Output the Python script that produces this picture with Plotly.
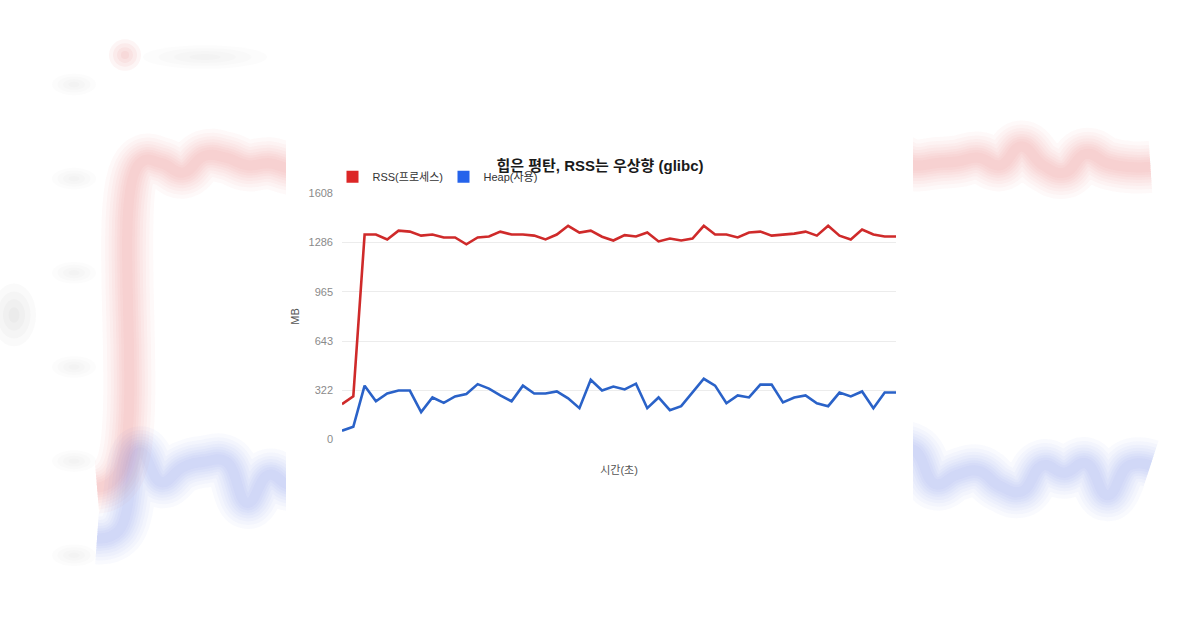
import plotly.graph_objects as go

# ---- data ----
time_s = list(range(50))
rss_mb = [231, 282, 1339, 1339, 1307, 1364, 1358, 1332, 1339, 1320,
          1320, 1275, 1320, 1326, 1358, 1339, 1339, 1332, 1307, 1339,
          1396, 1352, 1364, 1325, 1300, 1335, 1326, 1352, 1294, 1313,
          1300, 1313, 1396, 1339, 1339, 1320, 1352, 1358, 1332, 1339,
          1345, 1358, 1332, 1396, 1332, 1307, 1371, 1339, 1326, 1326]
heap_mb = [58, 83, 352, 250, 301, 320, 320, 179, 275, 240,
           282, 298, 362, 333, 288, 250, 352, 301, 301, 314,
           269, 205, 391, 320, 346, 327, 365, 205, 275, 192,
           218, 307, 397, 352, 237, 288, 275, 359, 359, 243,
           275, 288, 237, 218, 307, 282, 314, 205, 307, 307]
y_ticks = [0, 321.6, 643.2, 964.8, 1286.4, 1608]
y_tick_labels = ["0", "322", "643", "965", "1286", "1608"]
series_names = ["RSS(프로세스)", "Heap(사용)"]
title_text = "힙은 평탄, RSS는 우상향 (glibc)"
x_title = "시간(초)"
y_title = "MB"

RED_LINE = "#cf2a2a"
BLUE_LINE = "#2a62c8"
RED_KEY = "#dc2626"
BLUE_KEY = "#2563eb"
FONT = "Liberation Sans, Noto Sans CJK KR, sans-serif"

W, H = 1200, 628
fig = go.Figure()

# ---- blurred, magnified backdrop of the same chart (left and right of the card) ----
bg_x0, bg_dx = 97.0, 21.5
bg_zero, bg_mbpp = 560.0, 3.35
y_lo, y_hi = -(H - bg_zero) * bg_mbpp, bg_zero * bg_mbpp
card_l, card_r = 286, 913

blur_widths = [52, 44, 37, 31, 25, 20, 15, 10]
for sub, xa in (("", "x"), ("2", "x2")):
    for vals, col in ((rss_mb, "rgba(225,60,60,{a})"), (heap_mb, "rgba(60,110,225,{a})")):
        for w in blur_widths:
            fig.add_trace(go.Scatter(
                x=time_s, y=vals, mode="lines",
                line=dict(color=col.format(a=0.03), width=w, shape="spline", smoothing=1.3),
                xaxis=xa, yaxis="y" + sub, showlegend=False, hoverinfo="skip"))

# ---- main chart ----
fig.add_trace(go.Scatter(x=time_s, y=rss_mb, mode="lines", name=series_names[0],
                         line=dict(color=RED_LINE, width=2.6), xaxis="x3", yaxis="y3", showlegend=False))
fig.add_trace(go.Scatter(x=time_s, y=heap_mb, mode="lines", name=series_names[1],
                         line=dict(color=BLUE_LINE, width=2.6), xaxis="x3", yaxis="y3", showlegend=False))
# legend keys (square swatches)
fig.add_trace(go.Scatter(x=[None], y=[None], mode="markers", name=series_names[0],
                         marker=dict(symbol="square", size=12, color=RED_KEY), xaxis="x3", yaxis="y3"))
fig.add_trace(go.Scatter(x=[None], y=[None], mode="markers", name=series_names[1],
                         marker=dict(symbol="square", size=12, color=BLUE_KEY), xaxis="x3", yaxis="y3"))

hidden = dict(visible=False, fixedrange=True)
fig.update_layout(
    width=W, height=H,
    margin=dict(l=0, r=0, t=0, b=0),
    paper_bgcolor="white", plot_bgcolor="rgba(0,0,0,0)",
    font=dict(family=FONT, size=11, color="#555"),
    title=dict(text="<b>" + title_text + "</b>", x=0.5, xanchor="center",
               y=1 - 166 / H, yanchor="middle", font=dict(size=15, color="#1a1a1a", family=FONT)),
    showlegend=True,
    legend=dict(orientation="h", x=332.5 / W, xanchor="left", y=1 - 174 / H, yanchor="middle",
                font=dict(size=11, color="#333"), itemwidth=30, entrywidth=66, entrywidthmode="pixels",
                bgcolor="rgba(0,0,0,0)", tracegroupgap=0),
    # backdrop axes
    xaxis=dict(domain=[0, card_l / W], range=[-bg_x0 / bg_dx, (card_l - bg_x0) / bg_dx], **hidden),
    yaxis=dict(domain=[0, 1], range=[y_lo, y_hi], **hidden),
    xaxis2=dict(domain=[card_r / W, 1], range=[(card_r - bg_x0) / bg_dx, (W - bg_x0) / bg_dx], **hidden),
    yaxis2=dict(domain=[0, 1], range=[y_lo, y_hi], **hidden),
    # main axes
    xaxis3=dict(domain=[342 / W, 896 / W], range=[0, 49], showgrid=False, zeroline=False,
                showticklabels=False, ticks="", showline=False, anchor="y3",
                title=dict(text=x_title, standoff=26, font=dict(size=11, color="#555"))),
    yaxis3=dict(domain=[(H - 442) / H, (H - 191) / H], range=[0, 1608], anchor="x3",
                tickvals=y_ticks, ticktext=y_tick_labels, showgrid=True, gridcolor="#ececec",
                gridwidth=1, zeroline=False, showline=False, ticks="",
                tickfont=dict(size=11, color="#8a8a8a"), ticklabelstandoff=8,
                title=dict(text=y_title, standoff=6, font=dict(size=11, color="#555"))),
)

# soft hints of the magnified legend / tick labels in the backdrop (soft ellipses)
def soft_blob(cx, cy, rx, ry, rgb, a, steps=4):
    for k in range(steps):
        f = 1 - k / steps
        fig.add_shape(type="circle", xref="paper", yref="paper",
                      x0=(cx - rx * f) / W, x1=(cx + rx * f) / W,
                      y0=1 - (cy + ry * f) / H, y1=1 - (cy - ry * f) / H,
                      fillcolor=f"rgba({rgb},{a})", line=dict(width=0), layer="below")

soft_blob(125, 50, 16, 16, "225,60,60", 0.05)
soft_blob(205, 52, 62, 12, "120,120,120", 0.022)
for tv in y_ticks:
    py = bg_zero - tv / bg_mbpp
    soft_blob(74, py, 22, 11, "120,120,120", 0.022)
soft_blob(14, 315, 22, 32, "110,110,110", 0.035)

fig.write_html("out.html")
